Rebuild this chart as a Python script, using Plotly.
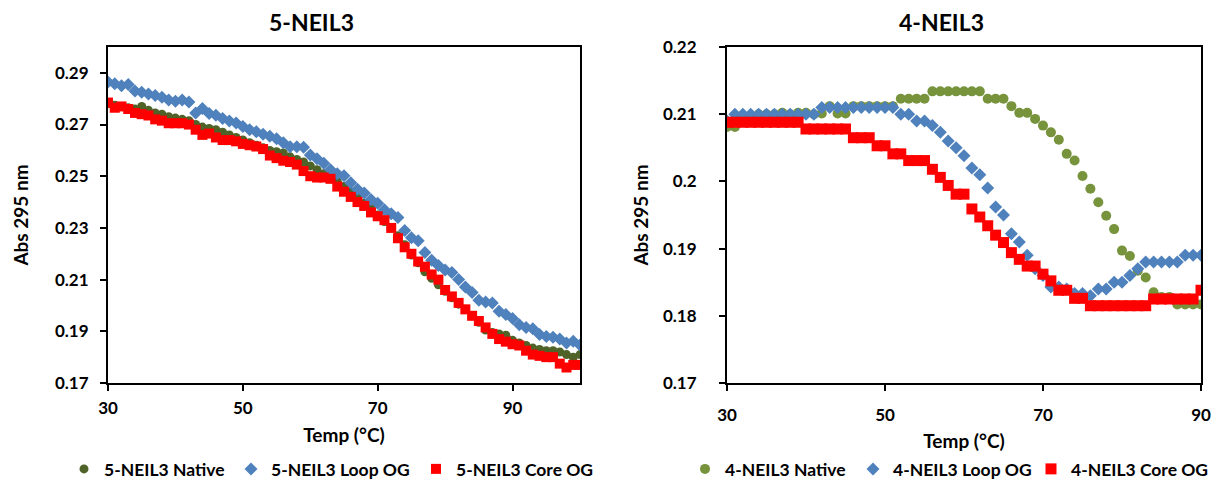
import plotly.graph_objects as go

W, H = 1215, 481

# ---------------- data ----------------
temp_5 = [30, 31, 32, 33, 34, 35, 36, 37, 38, 39, 40, 41, 42, 43, 44, 45, 46, 47, 48, 49,
          50, 51, 52, 53, 54, 55, 56, 57, 58, 59, 60, 61, 62, 63, 64, 65, 66, 67, 68, 69,
          70, 71, 72, 73, 74, 75, 76, 77, 78, 79, 80, 81, 82, 83, 84, 85, 86, 87, 88, 89,
          90, 91, 92, 93, 94, 95, 96, 97, 98, 99, 100]

native_5 = [0.2780, 0.2775, 0.2770, 0.2765, 0.2760, 0.2770, 0.2755, 0.2745, 0.2740, 0.2730,
            0.2725, 0.2720, 0.2715, 0.2700, 0.2690, 0.2685, 0.2680, 0.2670, 0.2660, 0.2650,
            0.2640, 0.2630, 0.2620, 0.2610, 0.2600, 0.2595, 0.2590, 0.2575, 0.2565, 0.2555,
            0.2540, 0.2525, 0.2510, 0.2495, 0.2480, 0.2460, 0.2440, 0.2420, 0.2395, 0.2375,
            0.2350, 0.2325, 0.2300, 0.2270, 0.2235, 0.2195, 0.2165, 0.2130, 0.2105, 0.2080,
            0.2055, 0.2030, 0.2005, 0.1985, 0.1960, 0.1935, 0.1905, 0.1895, 0.1890, 0.1885,
            0.1865, 0.1855, 0.1845, 0.1835, 0.1830, 0.1825, 0.1825, 0.1820, 0.1810, 0.1800,
            0.1810]

loop_5 = [0.2865, 0.2858, 0.2850, 0.2855, 0.2830, 0.2825, 0.2818, 0.2812, 0.2806, 0.2795,
          0.2790, 0.2795, 0.2787, 0.2745, 0.2762, 0.2743, 0.2736, 0.2723, 0.2714, 0.2706,
          0.2692, 0.2680, 0.2672, 0.2662, 0.2655, 0.2645, 0.2630, 0.2614, 0.2614, 0.2612,
          0.2582, 0.2568, 0.2550, 0.2525, 0.2510, 0.2502, 0.2475, 0.2450, 0.2435, 0.2410,
          0.2395, 0.2370, 0.2355, 0.2340, 0.2290, 0.2262, 0.2250, 0.2205, 0.2175, 0.2155,
          0.2137, 0.2128, 0.2100, 0.2071, 0.2050, 0.2020, 0.2013, 0.2010, 0.1978, 0.1965,
          0.1950, 0.1925, 0.1915, 0.1910, 0.1888, 0.1880, 0.1877, 0.1870, 0.1855, 0.1862,
          0.1847]

core_5 = [0.2785, 0.2765, 0.2770, 0.2760, 0.2745, 0.2740, 0.2735, 0.2720, 0.2715, 0.2705,
          0.2705, 0.2705, 0.2700, 0.2680, 0.2660, 0.2665, 0.2650, 0.2640, 0.2640, 0.2635,
          0.2625, 0.2620, 0.2615, 0.2605, 0.2580, 0.2570, 0.2560, 0.2555, 0.2545, 0.2520,
          0.2500, 0.2495, 0.2495, 0.2490, 0.2460, 0.2440, 0.2420, 0.2400, 0.2385, 0.2360,
          0.2345, 0.2330, 0.2300, 0.2260, 0.2225, 0.2200, 0.2170, 0.2150, 0.2120, 0.2100,
          0.2060, 0.2035, 0.2010, 0.1985, 0.1960, 0.1940, 0.1915, 0.1890, 0.1870, 0.1860,
          0.1850, 0.1845, 0.1825, 0.1810, 0.1805, 0.1800, 0.1800, 0.1775, 0.1760, 0.1770,
          0.1770]

temp_4 = [30, 31, 32, 33, 34, 35, 36, 37, 38, 39, 40, 41, 42, 43, 44, 45, 46, 47, 48, 49,
          50, 51, 52, 53, 54, 55, 56, 57, 58, 59, 60, 61, 62, 63, 64, 65, 66, 67, 68, 69,
          70, 71, 72, 73, 74, 75, 76, 77, 78, 79, 80, 81, 82, 83, 84, 85, 86, 87, 88, 89, 90]

native_4 = [0.2081, 0.2081, 0.2090, 0.2095, 0.2100, 0.2100, 0.2100, 0.2102, 0.2100, 0.2102,
            0.2102, 0.2100, 0.2101, 0.2112, 0.2101, 0.2101, 0.2112, 0.2112, 0.2112, 0.2112,
            0.2112, 0.2112, 0.2123, 0.2123, 0.2123, 0.2123, 0.2134, 0.2134, 0.2134, 0.2134,
            0.2134, 0.2134, 0.2134, 0.2123, 0.2123, 0.2123, 0.2112, 0.2102, 0.2102, 0.2093,
            0.2083, 0.2073, 0.2062, 0.2041, 0.2031, 0.2008, 0.1989, 0.1969, 0.1949, 0.1929,
            0.1897, 0.1889, 0.1867, 0.1857, 0.1835, 0.1828, 0.1828, 0.1817, 0.1817, 0.1817,
            0.1817]

loop_4 = [0.2090, 0.2100, 0.2100, 0.2100, 0.2100, 0.2100, 0.2100, 0.2100, 0.2100, 0.2100,
          0.2100, 0.2100, 0.2110, 0.2110, 0.2110, 0.2110, 0.2110, 0.2110, 0.2110, 0.2110,
          0.2110, 0.2110, 0.2100, 0.2100, 0.2090, 0.2090, 0.2083, 0.2073, 0.2060, 0.2050,
          0.2038, 0.2020, 0.2010, 0.1990, 0.1962, 0.1950, 0.1922, 0.1910, 0.1890, 0.1870,
          0.1860, 0.1843, 0.1843, 0.1840, 0.1833, 0.1833, 0.1830, 0.1840, 0.1840, 0.1850,
          0.1850, 0.1860, 0.1870, 0.1880, 0.1880, 0.1880, 0.1880, 0.1880, 0.1890, 0.1890,
          0.1890]

core_4 = [0.2088, 0.2088, 0.2088, 0.2088, 0.2088, 0.2088, 0.2088, 0.2088, 0.2088, 0.2088,
          0.2078, 0.2078, 0.2078, 0.2078, 0.2078, 0.2078, 0.2065, 0.2065, 0.2065, 0.2053,
          0.2053, 0.2041, 0.2041, 0.2031, 0.2031, 0.2031, 0.2018, 0.2006, 0.1994, 0.1981,
          0.1981, 0.1959, 0.1947, 0.1934, 0.1920, 0.1909, 0.1894, 0.1884, 0.1874, 0.1874,
          0.1862, 0.1852, 0.1838, 0.1838, 0.1826, 0.1826, 0.1815, 0.1815, 0.1815, 0.1815,
          0.1815, 0.1815, 0.1815, 0.1815, 0.1825, 0.1825, 0.1825, 0.1825, 0.1825, 0.1825,
          0.1838]

x_ticks_5 = [30, 50, 70, 90]
x_ticks_4 = [30, 50, 70, 90]
y_ticks_5 = [0.17, 0.19, 0.21, 0.23, 0.25, 0.27, 0.29]
y_text_5 = ["0.17", "0.19", "0.21", "0.23", "0.25", "0.27", "0.29"]
y_ticks_4 = [0.17, 0.18, 0.19, 0.20, 0.21, 0.22]
y_text_4 = ["0.17", "0.18", "0.19", "0.2", "0.21", "0.22"]

names_5 = ["5-NEIL3 Native", "5-NEIL3 Loop OG", "5-NEIL3 Core OG"]
names_4 = ["4-NEIL3 Native", "4-NEIL3 Loop OG", "4-NEIL3 Core OG"]

# ---------------- style ----------------
FONT = "Lato"
GREEN_DARK = "#4F6228"
GREEN = "#77933C"
BLUE = "#4F81BD"
RED = "#FF0000"

fig = go.Figure()

def add(x, y, name, color, symbol, size, xa, ya, legend, lw):
    fig.add_trace(go.Scatter(
        x=x, y=y, name=name, mode="markers", xaxis=xa, yaxis=ya, legend=legend,
        legendwidth=lw,
        marker=dict(color=color, symbol=symbol, size=size, line=dict(width=0)),
    ))

add(temp_5, native_5, names_5[0], GREEN_DARK, "circle", 9, "x", "y", "legend", 122)
add(temp_5, loop_5, names_5[1], BLUE, "diamond", 10, "x", "y", "legend", 140)
add(temp_5, core_5, names_5[2], RED, "square", 10, "x", "y", "legend", 138)

add(temp_4, native_4, names_4[0], GREEN, "circle", 10, "x2", "y2", "legend2", 123)
add(temp_4, loop_4, names_4[1], BLUE, "diamond", 10, "x2", "y2", "legend2", 133)
add(temp_4, core_4, names_4[2], RED, "square", 11, "x2", "y2", "legend2", 136)

def px_x(p):
    """page x pixel -> paper fraction"""
    return p / W

def px_y(p):
    """page y pixel (from top) -> paper fraction (from bottom)"""
    return (H - p) / H

tick_font = dict(family=FONT, size=17, color="black", weight="bold")
title_font = dict(family=FONT, size=19, color="black", weight="bold")
legend_font = dict(family=FONT, size=17.5, color="black", weight="bold")

axis_common = dict(
    showgrid=False, zeroline=False, showline=True, linecolor="black", linewidth=2,
    mirror=True, ticks="outside", ticklen=6, tickwidth=2, tickcolor="black",
    tickfont=tick_font, fixedrange=True, automargin=False,
)

fig.update_layout(
    width=W, height=H,
    margin=dict(l=0, r=0, t=0, b=0, autoexpand=False),
    paper_bgcolor="white", plot_bgcolor="white",
    font=dict(family=FONT, color="black"),
    xaxis=dict(domain=[px_x(108), px_x(580)], range=[30, 100], tickvals=x_ticks_5,
               title=dict(text="Temp (°C)", font=title_font, standoff=11),
               ticklabelstandoff=3, anchor="y", **axis_common),
    yaxis=dict(domain=[px_y(383), px_y(47)], range=[0.17, 0.30], tickvals=y_ticks_5,
               ticktext=y_text_5, title=dict(text="Abs 295 nm", font=title_font, standoff=21),
               ticklabelstandoff=8, anchor="x", **axis_common),
    xaxis2=dict(domain=[px_x(727), px_x(1201)], range=[30, 90], tickvals=x_ticks_4,
                title=dict(text="Temp (°C)", font=title_font, standoff=10),
                ticklabelstandoff=10, anchor="y2", **axis_common),
    yaxis2=dict(domain=[px_y(383), px_y(47)], range=[0.17, 0.22], tickvals=y_ticks_4,
                ticktext=y_text_4, title=dict(text="Abs 295 nm", font=title_font, standoff=9),
                ticklabelstandoff=19, anchor="x2", **axis_common),
    legend=dict(orientation="h", x=px_x(64), xanchor="left", y=px_y(469), yanchor="middle",
                font=legend_font, bgcolor="rgba(0,0,0,0)",
                itemclick=False, itemdoubleclick=False),
    legend2=dict(orientation="h", x=px_x(685), xanchor="left", y=px_y(469), yanchor="middle",
                 font=legend_font, bgcolor="rgba(0,0,0,0)",
                 itemclick=False, itemdoubleclick=False),
    annotations=[
        dict(text="5-NEIL3", x=px_x(311), y=px_y(22), xref="paper", yref="paper",
             showarrow=False, xanchor="center", yanchor="middle",
             font=dict(family=FONT, size=23, color="black", weight="bold")),
        dict(text="4-NEIL3", x=px_x(941), y=px_y(22), xref="paper", yref="paper",
             showarrow=False, xanchor="center", yanchor="middle",
             font=dict(family=FONT, size=23, color="black", weight="bold")),
    ],
)

# remove the browser's default 8px body margin so the figure sits at the page origin
fig.write_html("out.html", config={"displayModeBar": False},
               post_script="document.body.style.margin='0px';")
